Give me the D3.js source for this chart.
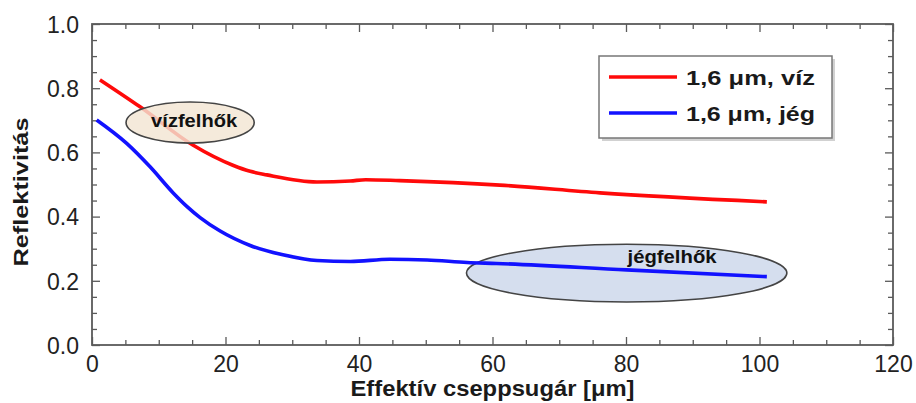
<!DOCTYPE html>
<html>
<head>
<meta charset="utf-8">
<script src="https://cdn.jsdelivr.net/npm/d3@7"></script>
<style>
  body { margin: 0; background: #fff; }
  svg { display: block; }
  text { font-family: "Liberation Sans", Arial, Helvetica, sans-serif; }
</style>
</head>
<body>
<svg id="chart" width="916" height="403"></svg>
<script>
// Reflectance at 1.6 µm versus effective droplet radius
const waterRadius = [1.2, 7.2, 15.1, 21.1, 23.7, 26.2, 33.7, 38.7, 41.0, 46.1, 61.1, 76.1, 101.1];
const waterRefl   = [0.826, 0.742, 0.623, 0.560, 0.541, 0.530, 0.508, 0.511, 0.515, 0.512, 0.498, 0.474, 0.446];
const iceRadius   = [0.7, 5.2, 8.7, 12.2, 14.2, 16.2, 19.2, 23.7, 28.6, 33.7, 38.7, 44.6, 50.2, 56.2, 60.6, 80.1, 101.1];
const iceRefl     = [0.701, 0.628, 0.555, 0.473, 0.432, 0.397, 0.355, 0.310, 0.281, 0.263, 0.260, 0.267, 0.265, 0.257, 0.254, 0.234, 0.213];

const seriesNames = ["1,6 μm, víz", "1,6 μm, jég"];
const xTickValues = [0, 20, 40, 60, 80, 100, 120];
const yTickValues = [0.0, 0.2, 0.4, 0.6, 0.8, 1.0];
const xTitle = "Effektív cseppsugár [μm]";
const yTitle = "Reflektivitás";

// Cloud-type annotations, in data units
const cloudLabels = ["vízfelhők", "jégfelhők"];
const cloudCenterX = [14.7, 80.1];
const cloudCenterY = [0.693, 0.224];
const cloudHalfWidth = [9.6, 24.0];
const cloudHalfHeight = [0.064, 0.090];
const cloudTextX = [15.3, 86.9];
const cloudTextY = [0.679, 0.255];

const colors = ["#ff0a0a", "#1212ff"];
const cloudFills = ["#f3e5d3", "#d5deee"];

const svg = d3.select("#chart");
const plot = { left: 92, right: 893, top: 24, bottom: 345 };

const x = d3.scaleLinear().domain([0, 120]).range([plot.left, plot.right]);
const y = d3.scaleLinear().domain([0, 1]).range([plot.bottom, plot.top]);

const frameColor = "#5a5a5a";
const xMinor = d3.range(0, 121, 5).filter(v => v % 20 !== 0);
const yMinor = d3.range(0, 21).map(i => i / 20).filter((v, i) => i % 4 !== 0);

function styleAxis(g) {
  g.select(".domain").remove();
  g.selectAll(".tick line").attr("stroke", frameColor).attr("stroke-width", 1.3);
}

// Ticks on all four sides, pointing inward
svg.append("g").attr("transform", `translate(0,${plot.bottom})`)
  .call(d3.axisBottom(x).tickValues(xTickValues).tickSize(-8).tickPadding(11).tickFormat(d3.format("d")))
  .call(styleAxis)
  .call(g => g.selectAll("text").attr("font-size", 23).attr("fill", "#222").attr("dy", "0.71em"));
svg.append("g").attr("transform", `translate(0,${plot.bottom})`)
  .call(d3.axisBottom(x).tickValues(xMinor).tickSize(-5).tickFormat(""))
  .call(styleAxis);
svg.append("g").attr("transform", `translate(0,${plot.top})`)
  .call(d3.axisTop(x).tickValues(xTickValues).tickSize(-8).tickFormat(""))
  .call(styleAxis);
svg.append("g").attr("transform", `translate(0,${plot.top})`)
  .call(d3.axisTop(x).tickValues(xMinor).tickSize(-5).tickFormat(""))
  .call(styleAxis);

svg.append("g").attr("transform", `translate(${plot.left},0)`)
  .call(d3.axisLeft(y).tickValues(yTickValues).tickSize(-8).tickPadding(13).tickFormat(d3.format(".1f")))
  .call(styleAxis)
  .call(g => g.selectAll("text").attr("font-size", 23).attr("fill", "#222").attr("dy", "0.36em"));
svg.append("g").attr("transform", `translate(${plot.left},0)`)
  .call(d3.axisLeft(y).tickValues(yMinor).tickSize(-5).tickFormat(""))
  .call(styleAxis);
svg.append("g").attr("transform", `translate(${plot.right},0)`)
  .call(d3.axisRight(y).tickValues(yTickValues).tickSize(-8).tickFormat(""))
  .call(styleAxis);
svg.append("g").attr("transform", `translate(${plot.right},0)`)
  .call(d3.axisRight(y).tickValues(yMinor).tickSize(-5).tickFormat(""))
  .call(styleAxis);

// Frame
svg.append("rect")
  .attr("x", plot.left).attr("y", plot.top)
  .attr("width", plot.right - plot.left).attr("height", plot.bottom - plot.top)
  .attr("fill", "none").attr("stroke", frameColor).attr("stroke-width", 1.8);

// Axis titles
svg.append("text")
  .attr("x", (plot.left + plot.right) / 2).attr("y", 396)
  .attr("text-anchor", "middle").attr("font-size", 22).attr("font-weight", "bold")
  .attr("textLength", 284).attr("lengthAdjust", "spacingAndGlyphs")
  .attr("fill", "#1a1a1a")
  .text(xTitle);
svg.append("text")
  .attr("transform", `translate(28,192) rotate(-90)`)
  .attr("text-anchor", "middle").attr("font-size", 20).attr("font-weight", "bold")
  .attr("textLength", 149).attr("lengthAdjust", "spacingAndGlyphs")
  .attr("fill", "#1a1a1a")
  .text(yTitle);

const line = d3.line().x(d => x(d[0])).y(d => y(d[1])).curve(d3.curveMonotoneX);
const waterPts = d3.zip(waterRadius, waterRefl);
const icePts = d3.zip(iceRadius, iceRefl);

function cloud(i, opacity) {
  svg.append("ellipse")
    .attr("cx", x(cloudCenterX[i])).attr("cy", y(cloudCenterY[i]))
    .attr("rx", x(cloudHalfWidth[i]) - x(0)).attr("ry", y(0) - y(cloudHalfHeight[i]))
    .attr("fill", cloudFills[i]).attr("fill-opacity", opacity)
    .attr("stroke", "#444").attr("stroke-width", 1.6);
}
function cloudText(i, width) {
  svg.append("text")
    .attr("x", x(cloudTextX[i])).attr("y", y(cloudTextY[i]))
    .attr("text-anchor", "middle").attr("font-size", 18).attr("font-weight", "bold")
    .attr("textLength", width).attr("lengthAdjust", "spacingAndGlyphs")
    .attr("fill", "#111")
    .text(cloudLabels[i]);
}

// Ice-cloud ellipse sits beneath the curves
cloud(1, 1);

svg.append("path").datum(waterPts).attr("d", line)
  .attr("fill", "none").attr("stroke", colors[0]).attr("stroke-width", 3.6);
svg.append("path").datum(icePts).attr("d", line)
  .attr("fill", "none").attr("stroke", colors[1]).attr("stroke-width", 3.6);

// Water-cloud ellipse drawn over the red curve, partly transparent
cloud(0, 0.82);
cloudText(0, 86);
cloudText(1, 89);

// Legend
const lg = svg.append("g").attr("transform", "translate(599,56)");
lg.append("rect").attr("x", 3).attr("y", 3).attr("width", 233).attr("height", 82)
  .attr("fill", "#bdbdbd").attr("opacity", 0.7);
lg.append("rect").attr("width", 233).attr("height", 82)
  .attr("fill", "#fff").attr("stroke", "#777").attr("stroke-width", 1.5);
seriesNames.forEach((name, i) => {
  const yy = 21 + i * 36;
  lg.append("line").attr("x1", 10).attr("x2", 78).attr("y1", yy).attr("y2", yy)
    .attr("stroke", colors[i]).attr("stroke-width", 3.6);
  lg.append("text").attr("x", 87).attr("y", yy + 8)
    .attr("font-size", 21).attr("font-weight", "bold").attr("fill", "#1a1a1a")
    .attr("textLength", 129).attr("lengthAdjust", "spacingAndGlyphs")
    .text(name);
});
</script>
</body>
</html>
